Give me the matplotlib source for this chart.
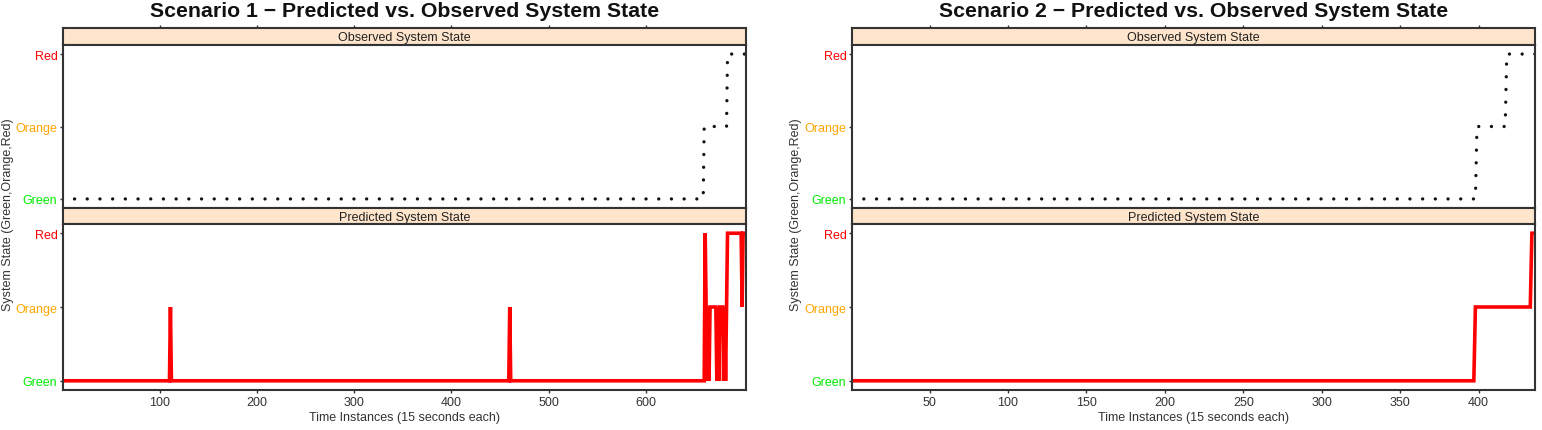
import numpy as np
import matplotlib
matplotlib.use("Agg")
import matplotlib.pyplot as plt

plt.rcParams['font.family'] = ['Liberation Sans', 'DejaVu Sans']

# ---------------- data ----------------
state_labels = ["Green", "Orange", "Red"]
state_colors = ["#00ee00", "#ffa500", "#ff0000"]

# Scenario 1 (run-length encoded: first time instance of each run, state 1=Green,2=Orange,3=Red)
n1 = 703
obs1_start = [1, 660, 684]
obs1_state = [1, 2, 3]
pred1_start = [1, 111, 112, 460, 461, 661, 662, 663, 664, 665, 666, 673, 674, 675, 676,
               680, 681, 682, 683, 684, 699, 700]
pred1_state = [1, 2, 1, 2, 1, 3, 2, 1, 2, 1, 2, 1, 2, 1, 2,
               1, 2, 1, 2, 3, 2, 3]
xticks1 = [100, 200, 300, 400, 500, 600]

# Scenario 2
n2 = 436
obs2_start = [1, 399, 418]
obs2_state = [1, 2, 3]
pred2_start = [1, 398, 434]
pred2_state = [1, 2, 3]
xticks2 = [50, 100, 150, 200, 250, 300, 350, 400]

titles = ["Scenario 1 \u2212 Predicted vs. Observed System State",
          "Scenario 2 \u2212 Predicted vs. Observed System State"]
strip_obs = "Observed System State"
strip_pred = "Predicted System State"
xlabel = "Time Instances (15 seconds each)"
ylabel = "System State (Green,Orange,Red)"


def expand(starts, states, n):
    starts = list(starts) + [n + 1]
    reps = np.diff(starts)
    return np.repeat(states, reps)


# ---------------- layout ----------------
W, H = 1542, 431
fig = plt.figure(figsize=(W / 100, H / 100), dpi=100)


def rect(x0, y0, x1, y1):
    return [x0 / W, 1 - y1 / H, (x1 - x0) / W, (y1 - y0) / H]


FRAME = "#333333"
STRIP = "#ffe5cc"
FS = 9

panels = [
    dict(x0=63, x1=746, n=n1, obs=(obs1_start, obs1_state), pred=(pred1_start, pred1_state),
         xticks=xticks1, title=titles[0], ylab_x=8),
    dict(x0=852, x1=1535, n=n2, obs=(obs2_start, obs2_state), pred=(pred2_start, pred2_state),
         xticks=xticks2, title=titles[1], ylab_x=796),
]

y_strip1, y_obs0, y_obs1, y_pred0, y_pred1 = 29, 46, 209, 225, 391

for p in panels:
    x0, x1, n = p["x0"], p["x1"], p["n"]
    t = np.arange(1, n + 1)
    xlim = (0.5, n)
    ylim = (0.875, 3.125)

    s1 = fig.add_axes(rect(x0, y_strip1, x1, y_obs0))
    ao = fig.add_axes(rect(x0, y_obs0, x1, y_obs1))
    s2 = fig.add_axes(rect(x0, y_obs1, x1, y_pred0))
    ap = fig.add_axes(rect(x0, y_pred0, x1, y_pred1))

    for s, lab in [(s1, strip_obs), (s2, strip_pred)]:
        s.set_facecolor(STRIP)
        s.set_xlim(*xlim)
        s.set_ylim(0, 1)
        s.set_yticks([])
        s.text(0.5, 0.45, lab, transform=s.transAxes, ha="center", va="center",
               fontsize=FS, color="#222222")
        for sp in s.spines.values():
            sp.set_color(FRAME)
            sp.set_linewidth(1.5)
    s1.xaxis.tick_top()
    s1.set_xticks(p["xticks"])
    s1.set_xticklabels([])
    s1.tick_params(axis="x", direction="out", length=2.5, width=1, color=FRAME)
    s2.set_xticks([])

    obs = expand(*p["obs"], n)
    pred = expand(*p["pred"], n)

    ao.plot(t, obs, color="#111111", linewidth=2.4,
            linestyle=(0.5, (0.01, 3.8)), dash_capstyle="round")
    ap.plot(t, pred, color="#ff0000", linewidth=2.6, solid_joinstyle="miter")

    for a in (ao, ap):
        a.set_xlim(*xlim)
        a.set_ylim(*ylim)
        a.set_yticks([1, 2, 3])
        a.set_yticklabels(state_labels, fontsize=FS)
        for lab, c in zip(a.get_yticklabels(), state_colors):
            lab.set_color(c)
        a.tick_params(axis="y", direction="out", length=2.5, width=1, color=FRAME, pad=1.5)
        for sp in a.spines.values():
            sp.set_color(FRAME)
            sp.set_linewidth(1.5)
    ao.set_xticks([])
    ap.set_xticks(p["xticks"])
    ap.set_xticklabels([str(v) for v in p["xticks"]], fontsize=FS, color="#333333")
    ap.tick_params(axis="x", direction="out", length=2.5, width=1, color=FRAME, pad=1.5)

    cx = (x0 + x1) / 2
    fig.text(cx / W, 1 - 17 / H, p["title"], ha="center", va="baseline",
             fontsize=15.3, fontweight="bold", color="#111111")
    fig.text(cx / W, 1 - 418 / H, xlabel, ha="center", va="center", fontsize=FS, color="#333333")
    fig.text(p["ylab_x"] / W, 1 - 215 / H, ylabel, ha="center", va="center",
             rotation=90, fontsize=FS, color="#333333")

fig.savefig("out.png", dpi=100)
